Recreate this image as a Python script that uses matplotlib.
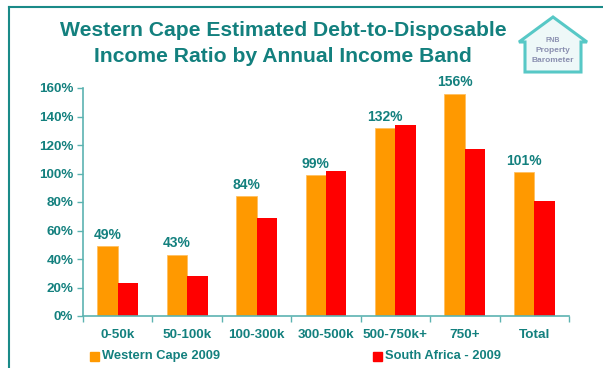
import matplotlib.pyplot as plt
from matplotlib.patches import Polygon, Rectangle
from matplotlib.lines import Line2D
import numpy as np

categories = ["0-50k", "50-100k", "100-300k", "300-500k", "500-750k+", "750+", "Total"]
western_cape = [49, 43, 84, 99, 132, 156, 101]
south_africa = [23.5, 28, 69, 102, 134, 117, 81]
series_names = ["Western Cape 2009", "South Africa - 2009"]

TEAL = "#13807e"
SPINE = "#5cb3b1"
ORANGE = "#ff9900"
RED = "#ff0000"

plt.rcParams['font.family'] = ['Liberation Sans', 'DejaVu Sans']

fig = plt.figure(figsize=(6.03, 3.68), dpi=100)
W, H = 603, 368


def fx(px):
    return px / W


def fy(py):
    return 1 - py / H


ax = fig.add_axes([fx(83), fy(316), fx(569) - fx(83), fy(88) - fy(316)])

x = np.arange(len(categories))
bw = 0.295
ax.bar(x - bw / 2, western_cape, bw, color=ORANGE, edgecolor="#ffc060", linewidth=0.6)
ax.bar(x + bw / 2, south_africa, bw, color=RED, linewidth=0)

for xi, v in zip(x, western_cape):
    ax.text(xi - bw / 2, v + 3, f"{v}%", ha="center", va="bottom",
            color=TEAL, fontsize=10, fontweight="bold")

ax.set_xlim(-0.5, len(categories) - 0.5)
ax.set_ylim(0, 160)
ax.set_yticks(np.arange(0, 161, 20))
ax.set_yticklabels([f"{t}%" for t in range(0, 161, 20)])
ax.set_xticks(x)
ax.set_xticklabels(categories)
ax.set_xticks(np.arange(-0.5, len(categories)), minor=True)

ax.tick_params(axis="y", colors=SPINE, labelcolor=TEAL, length=4, width=1, pad=3)
ax.tick_params(axis="x", which="major", length=0, labelcolor=TEAL, pad=9)
ax.tick_params(axis="x", which="minor", colors=SPINE, length=4, width=1)
for lab in ax.get_xticklabels() + ax.get_yticklabels():
    lab.set_fontweight("bold")
    lab.set_fontsize(9.7)

for s in ["top", "right"]:
    ax.spines[s].set_visible(False)
for s in ["left", "bottom"]:
    ax.spines[s].set_color(SPINE)
    ax.spines[s].set_linewidth(1.2)

# frame lines of the slide
fig.add_artist(Line2D([fx(9), 1], [fy(7), fy(7)], color="#1a8a88", lw=1.5))
fig.add_artist(Line2D([fx(9), fx(9)], [0, fy(7)], color="#1a8a88", lw=1.5))

# title
fig.text(fx(283), fy(30), "Western Cape Estimated Debt-to-Disposable",
         ha="center", va="center", color=TEAL, fontsize=15.2, fontweight="bold")
fig.text(fx(283), fy(56), "Income Ratio by Annual Income Band",
         ha="center", va="center", color=TEAL, fontsize=15.2, fontweight="bold")

# logo (house)
house = [(525, 72), (525, 42), (519, 42), (553, 17), (587, 42), (581, 42), (581, 72)]
fig.add_artist(Polygon([(fx(a), fy(b)) for a, b in house], closed=True,
                       facecolor="#eef8f8", edgecolor="#57c8c6", lw=2.2))
fig.text(fx(553), fy(41), "FNB", ha="center", va="center", color="#8a8fb0",
         fontsize=5, fontweight="bold")
fig.text(fx(553), fy(51), "Property", ha="center", va="center", color="#8a8fb0",
         fontsize=6, fontweight="bold")
fig.text(fx(553), fy(61), "Barometer", ha="center", va="center", color="#8a8fb0",
         fontsize=6, fontweight="bold")

# legend
for (lx, tx), name, col in zip([(90, 102), (373, 385)], series_names, [ORANGE, RED]):
    fig.add_artist(Rectangle((fx(lx), fy(361)), fx(9), 9 / H, color=col))
    fig.text(fx(tx), fy(356), name, ha="left", va="center", color=TEAL,
             fontsize=9.3, fontweight="bold")

fig.savefig("out.png", dpi=100)
